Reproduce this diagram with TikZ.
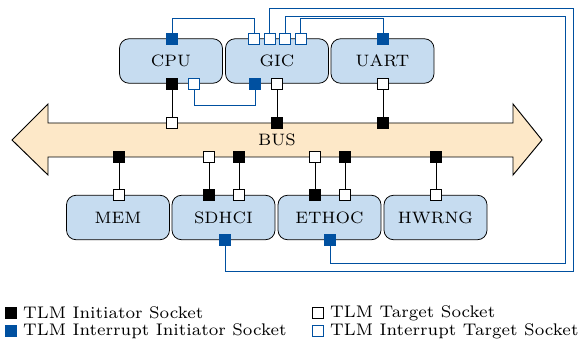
\documentclass[tikz,border=0pt]{standalone}
\usepackage{fontspec}
\setmainfont{lmroman7-regular.otf}
\usetikzlibrary{positioning}
\definecolor{busfill}{HTML}{FDE8C8}
\definecolor{boxfill}{HTML}{C6DCF0}
\definecolor{irqblue}{HTML}{0050A0}
\tikzset{%
  module/.style = {rectangle,draw,fill=boxfill,rounded corners=5pt,
        minimum width=54.2pt,minimum height=23.4pt},
  isock/.style = {rectangle,draw,fill=black,minimum size=5.8pt,
        inner sep=0pt},
  tsock/.style = {rectangle,draw,fill=white,minimum size=5.8pt,
        inner sep=0pt},
  irqisock/.style = {rectangle,draw=irqblue,fill=irqblue,minimum size=5.8pt,
        inner sep=0pt},
  irqtsock/.style = {rectangle,draw=irqblue,fill=white,minimum size=5.8pt,
        inner sep=0pt},
  tlmlink/.style = {draw,line width=0.5pt},
  irqlink/.style = {draw=irqblue,line width=0.5pt},
  legtext/.style = {inner sep=0pt,right=6.5pt,font=\fontsize{8.85}{11}\selectfont}
}

\begin{document}
\begin{tikzpicture}[x=0.5263pt,y=-0.5263pt,font=\fontsize{8.7}{10}\selectfont]
  \useasboundingbox (0,0) rectangle (585,344);
  % bus
  \draw[fill=busfill,line width=0.5pt] (12,140) -- (48,104) -- (48,123) -- (513,123)
    -- (513,104) -- (542,140) -- (513,175) -- (513,157) -- (48,157)
    -- (48,175) -- cycle;
  \node (bus) at (277,140) {BUS};

  % modules
  \node[module] (cpu) at (171,61) {CPU};
  \node[module] (gic) at (277,61) {GIC};
  \node[module] (uart) at (382.5,61) {UART};
  \node[module] (mem) at (118,217.5) {MEM};
  \node[module] (sdhci) at (223.5,217.5) {SDHCI};
  \node[module] (ethoc) at (329.5,217.5) {ETHOC};
  \node[module] (hwrng) at (435.5,217.5) {HWRNG};

  % sockets of the modules
  \node[irqisock] (cpuirq) at (172,39) {};
  \node[isock] (cpuinit) at (172,84) {};
  \node[irqtsock] (cpuirqt) at (194,84) {};
  \node[irqtsock] (gicin1) at (254,39) {};
  \node[irqtsock] (gicin2) at (269.5,39) {};
  \node[irqtsock] (gicin3) at (285,39) {};
  \node[irqtsock] (gicin4) at (300.5,39) {};
  \node[irqisock] (gicirq) at (255,84) {};
  \node[tsock] (gictarg) at (277,84) {};
  \node[irqisock] (uartirq) at (383,39) {};
  \node[tsock] (uarttarg) at (383,84) {};
  \node[tsock] (memtarg) at (119,195) {};
  \node[isock] (sdhciinit) at (209,195) {};
  \node[tsock] (sdhcitarg) at (239,195) {};
  \node[irqisock] (sdhciirq) at (225,240) {};
  \node[isock] (ethocinit) at (315,195) {};
  \node[tsock] (ethoctarg) at (345,195) {};
  \node[irqisock] (ethocirq) at (330,240) {};
  \node[tsock] (hwrngtarg) at (436,195) {};

  % sockets of the bus
  \node[tsock] (bcpu) at (172,123) {};
  \node[isock] (bgic) at (277,123) {};
  \node[isock] (buart) at (383,123) {};
  \node[isock] (bmem) at (119,157) {};
  \node[tsock] (bsdhcii) at (209,157) {};
  \node[isock] (bsdhcit) at (239,157) {};
  \node[tsock] (bethoci) at (315,157) {};
  \node[isock] (bethoct) at (345,157) {};
  \node[isock] (bhwrng) at (436,157) {};

  % tlm links
  \draw[tlmlink] (cpuinit.south) -- (bcpu.north);
  \draw[tlmlink] (gictarg.south) -- (bgic.north);
  \draw[tlmlink] (uarttarg.south) -- (buart.north);
  \draw[tlmlink] (bmem.south) -- (memtarg.north);
  \draw[tlmlink] (bsdhcii.south) -- (sdhciinit.north);
  \draw[tlmlink] (bsdhcit.south) -- (sdhcitarg.north);
  \draw[tlmlink] (bethoci.south) -- (ethocinit.north);
  \draw[tlmlink] (bethoct.south) -- (ethoctarg.north);
  \draw[tlmlink] (bhwrng.south) -- (hwrngtarg.north);

  % interrupt links
  \draw[irqlink] (cpuirq.north) -- ++(0,-15) -| (gicin1.north);
  \draw[irqlink] (uartirq.north) -- ++(0,-15) -| (gicin4.north);
  \draw[irqlink] (gicirq.south) -- ++(0,16) -| (cpuirqt.south);
  \draw[irqlink] (gicin2.north) |- (573,8) -- (573,271) -| (sdhciirq.south);
  \draw[irqlink] (gicin3.north) |- (565,16) -- (565,263) -| (ethocirq.south);

  % legend
  \node[isock] (leginit) at (10.5,313) {};
  \node[legtext] at (leginit) {TLM Initiator Socket};
  \node[irqisock] (legirqi) at (10.5,331) {};
  \node[legtext] at (legirqi) {TLM Interrupt Initiator Socket};
  \node[tsock] (legtarg) at (317.5,313) {};
  \node[legtext] at (legtarg) {TLM Target Socket};
  \node[irqtsock] (legirqt) at (317.5,331) {};
  \node[legtext] at (legirqt) {TLM Interrupt Target Socket};
\end{tikzpicture}
\end{document}
